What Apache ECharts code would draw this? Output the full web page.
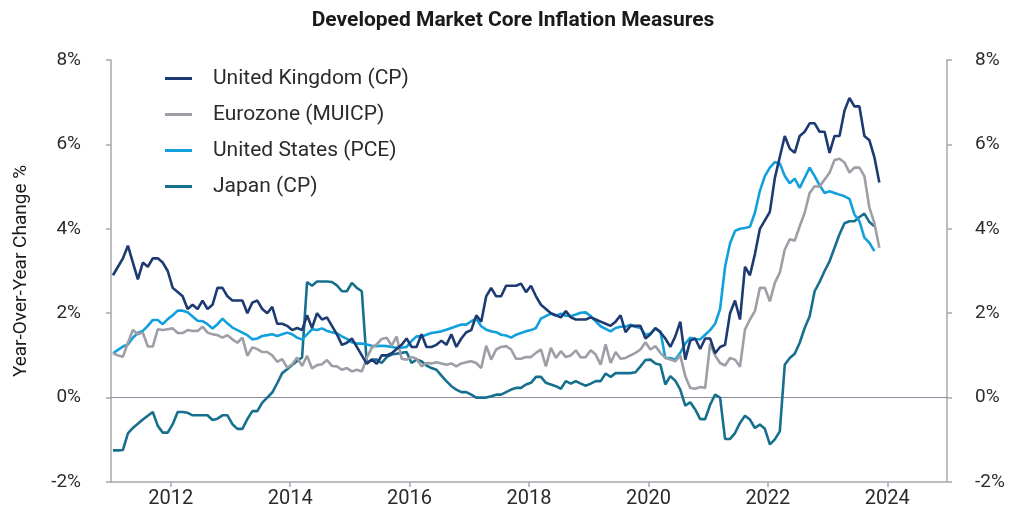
<!DOCTYPE html>
<html>
<head>
<meta charset="utf-8">
<script src="https://cdn.jsdelivr.net/npm/echarts@6/dist/echarts.min.js"></script>
<style>
  html, body { margin: 0; padding: 0; background: #fff; }
  #chart { width: 1026px; height: 509px; }
</style>
</head>
<body>
<div id="chart"></div>
<script>
// monthly year-over-year core inflation, Jan 2011 onward (one row per year)
var startYear = 2011;
var yearTicks = [2012, 2014, 2016, 2018, 2020, 2022, 2024];

var ukCore = [
  2.9, 3.1, 3.3, 3.6, 3.2, 2.8, 3.2, 3.1, 3.3, 3.3, 3.2, 3.0,
  2.6, 2.5, 2.4, 2.1, 2.2, 2.1, 2.3, 2.1, 2.2, 2.6, 2.6, 2.4,
  2.3, 2.3, 2.3, 2.0, 2.25, 2.3, 2.1, 2.0, 2.15, 1.75, 1.75, 1.7,
  1.6, 1.65, 1.6, 1.95, 1.65, 2.0, 1.85, 1.9, 1.7, 1.5, 1.25, 1.3,
  1.4, 1.2, 1.0, 0.8, 0.9, 0.8, 1.0, 1.0, 1.05, 1.15, 1.25, 1.4,
  1.2, 1.2, 1.5, 1.2, 1.2, 1.25, 1.35, 1.25, 1.5, 1.2, 1.4, 1.55,
  1.6, 1.95, 1.8, 2.4, 2.6, 2.4, 2.4, 2.65, 2.65, 2.65, 2.7, 2.5,
  2.65, 2.4, 2.2, 2.1, 2.0, 1.95, 1.9, 2.05, 1.9, 1.85, 1.85, 1.85,
  1.9, 1.85, 1.8, 1.75, 1.7, 1.8, 1.95, 1.55, 1.7, 1.7, 1.7, 1.4,
  1.5, 1.65, 1.55, 1.4, 1.2, 1.45, 1.8, 0.9, 1.35, 1.4, 1.15, 1.4,
  1.4, 1.05, 1.2, 1.25, 2.0, 2.3, 1.85, 3.1, 2.9, 3.4, 4.0, 4.2,
  4.4, 5.2, 5.7, 6.2, 5.9, 5.8, 6.2, 6.3, 6.5, 6.5, 6.3, 6.3,
  5.8, 6.2, 6.2, 6.8, 7.1, 6.9, 6.9, 6.2, 6.1, 5.7, 5.1
];

var euroCore = [
  1.05, 1.0, 0.97, 1.3, 1.6, 1.5, 1.54, 1.21, 1.21, 1.62, 1.6, 1.62,
  1.64, 1.53, 1.53, 1.6, 1.58, 1.58, 1.68, 1.54, 1.5, 1.48, 1.42, 1.48,
  1.38, 1.3, 1.42, 0.99, 1.19, 1.15, 1.08, 1.08, 1.0, 0.85, 0.91, 0.71,
  0.79, 0.95, 0.75, 0.99, 0.69, 0.77, 0.79, 0.89, 0.75, 0.74, 0.66, 0.7,
  0.62, 0.66, 0.62, 0.94, 1.18, 1.26, 1.39, 1.42, 1.23, 1.45, 0.92, 0.9,
  0.96, 0.92, 0.74, 0.82, 0.81, 0.84, 0.81, 0.78, 0.81, 0.74, 0.81, 0.84,
  0.86, 0.82, 0.7, 1.23, 0.9, 1.14, 1.2, 1.22, 1.14, 0.92, 0.92, 0.96,
  0.96, 1.06, 1.14, 0.74, 1.18, 0.94, 1.1, 0.96, 1.0, 1.12, 0.95, 0.96,
  1.12, 1.02, 0.78, 1.26, 0.82, 1.08, 0.92, 0.94, 1.0, 1.06, 1.14, 1.31,
  1.14, 1.22, 1.06, 0.94, 0.9, 0.86, 1.0, 0.51, 0.23, 0.21, 0.25, 0.23,
  1.28, 1.0, 0.82, 0.76, 0.94, 0.9, 0.73, 1.61, 1.85, 2.05, 2.6, 2.6,
  2.28, 2.72, 2.96, 3.51, 3.75, 3.72, 4.06, 4.38, 4.85, 5.01, 5.0, 5.17,
  5.33, 5.63, 5.66, 5.57, 5.33, 5.45, 5.45, 5.25, 4.5, 4.14, 3.55
];

var usCore = [
  1.05, 1.13, 1.21, 1.26, 1.42, 1.53, 1.58, 1.7, 1.84, 1.84, 1.74, 1.86,
  1.95, 2.06, 2.06, 2.02, 1.92, 1.82, 1.81, 1.74, 1.64, 1.74, 1.87, 1.76,
  1.66, 1.6, 1.54, 1.48, 1.38, 1.4, 1.46, 1.48, 1.5, 1.46, 1.5, 1.54,
  1.5, 1.42, 1.38, 1.5, 1.62, 1.6, 1.64, 1.58, 1.55, 1.52, 1.45, 1.39,
  1.31, 1.28, 1.28, 1.26, 1.23, 1.22, 1.23, 1.22, 1.2, 1.18, 1.18, 1.2,
  1.34, 1.45, 1.45, 1.49, 1.53, 1.55, 1.57, 1.61, 1.65, 1.69, 1.73, 1.73,
  1.81, 1.87, 1.69, 1.61, 1.57, 1.55, 1.49, 1.47, 1.42, 1.49, 1.53, 1.57,
  1.6, 1.65, 1.87, 1.93, 1.99, 1.94, 1.99, 1.94, 1.93, 1.97, 2.01, 2.02,
  1.93, 1.81, 1.69, 1.63, 1.57, 1.65, 1.68, 1.68, 1.73, 1.68, 1.65, 1.49,
  1.52, 1.63, 1.57, 0.94, 0.94, 0.9, 1.06, 1.28, 1.42, 1.39, 1.38, 1.49,
  1.6, 1.75, 2.1, 3.1, 3.65, 3.95, 4.0, 4.02, 4.05, 4.38, 4.9, 5.25,
  5.45, 5.58, 5.55, 5.25, 5.08, 5.19, 4.97, 5.21, 5.45, 5.25, 5.03, 4.85,
  4.89, 4.85, 4.81, 4.77, 4.71, 4.34, 4.18, 3.79, 3.67, 3.47
];

var japanCore = [
  -1.25, -1.25, -1.24, -0.85, -0.72, -0.62, -0.52, -0.43, -0.34, -0.67, -0.83, -0.83,
  -0.63, -0.34, -0.34, -0.36, -0.42, -0.42, -0.42, -0.42, -0.53, -0.5, -0.42, -0.42,
  -0.63, -0.74, -0.74, -0.51, -0.32, -0.32, -0.12, 0.0, 0.12, 0.34, 0.58, 0.67,
  0.77, 0.87, 0.95, 2.74, 2.65, 2.75, 2.75, 2.75, 2.74, 2.66, 2.52, 2.52,
  2.72, 2.6, 2.52, 0.82, 0.9, 0.9, 0.82, 0.96, 1.02, 1.04, 1.06, 1.08,
  0.82, 0.9, 0.86, 0.76, 0.7, 0.66, 0.52, 0.39, 0.27, 0.19, 0.13, 0.13,
  0.07, 0.0, 0.0, 0.0, 0.03, 0.07, 0.07, 0.13, 0.19, 0.23, 0.23, 0.31,
  0.35, 0.49, 0.49, 0.35, 0.31, 0.27, 0.21, 0.39, 0.33, 0.39, 0.33, 0.28,
  0.33, 0.39, 0.39, 0.57, 0.49, 0.58, 0.58, 0.58, 0.58, 0.6, 0.74, 0.89,
  0.9, 0.81, 0.78, 0.31, 0.51, 0.4, 0.19, -0.19, -0.11, -0.28, -0.51, -0.51,
  -0.17, 0.07, 0.0, -0.98, -0.98, -0.84, -0.6, -0.43, -0.52, -0.72, -0.64, -0.74,
  -1.11, -0.99, -0.8, 0.78, 0.94, 1.04, 1.3, 1.65, 1.93, 2.52, 2.74, 3.0,
  3.23, 3.55, 3.87, 4.13, 4.18, 4.18, 4.28, 4.36, 4.16, 4.06
];

var seriesNames = ['United Kingdom (CP)', 'Eurozone (MUICP)', 'United States (PCE)', 'Japan (CP)'];
var seriesColors = ['#1d3a72', '#9e9fa6', '#12a0dc', '#176f8e'];

// month index -> decimal year (points sit mid-month)
function toPoints(values) {
  return values.map(function (v, i) {
    return [startYear + (i + 0.4) / 12, v];
  });
}

var font = 'Roboto';
var axisGray = '#a7a7b0';

function yAxis(pos, margin) {
  return {
    type: 'value',
    position: pos,
    min: -2,
    max: 8,
    interval: 2,
    axisLine: { show: true, lineStyle: { color: axisGray, width: 1.5 } },
    axisTick: { show: true, length: 5, lineStyle: { color: axisGray, width: 1.5 } },
    splitLine: { show: false },
    axisLabel: {
      margin: margin,
      formatter: '{value}%',
      fontFamily: font,
      fontSize: 19,
      color: '#2b2b2b'
    }
  };
}

var chart = echarts.init(document.getElementById('chart'));

var left = yAxis('left', 30);
left.name = 'Year-Over-Year Change %';
left.nameLocation = 'middle';
left.nameRotate = 90;
left.nameGap = 80;
left.nameTextStyle = { fontFamily: font, fontSize: 19, color: '#1a1a1a' };

var series = [ukCore, euroCore, usCore, japanCore].map(function (vals, k) {
  return {
    name: seriesNames[k],
    type: 'line',
    data: toPoints(vals),
    showSymbol: false,
    symbol: 'none',
    lineStyle: { width: 2.6, color: seriesColors[k] },
    itemStyle: { color: seriesColors[k] },
    z: 10 - k
  };
});
// zero line
series[0].markLine = {
  silent: true,
  symbol: 'none',
  label: { show: false },
  lineStyle: { color: '#8c8c9c', width: 1, type: 'solid' },
  data: [{ yAxis: 0 }]
};
// draw the lines in the reference's stacking order
series = [series[1], series[3], series[2], series[0]];

chart.setOption({
  animation: false,
  backgroundColor: '#ffffff',
  title: {
    text: 'Developed Market Core Inflation Measures',
    left: 'center',
    top: 5,
    textStyle: { fontFamily: font, fontWeight: 'bold', fontSize: 21, color: '#1a1a1a' }
  },
  legend: {
    orient: 'vertical',
    left: 160,
    top: 63,
    itemWidth: 27,
    itemHeight: 20,
    itemGap: 15,
    icon: 'path://M0,8.5 L27,8.5 L27,11.5 L0,11.5 Z',
    data: seriesNames,
    textStyle: { fontFamily: font, fontSize: 21, color: '#2b2b2b', padding: [0, 0, 0, 16] }
  },
  grid: { left: 111, right: 79, top: 60, bottom: 27, containLabel: false },
  xAxis: {
    type: 'value',
    min: 2011,
    max: 2025,
    axisLine: { show: true, onZero: false, lineStyle: { color: axisGray, width: 1.5 } },
    axisTick: { show: true, length: 5, customValues: yearTicks, lineStyle: { color: axisGray, width: 1.5 } },
    axisLabel: {
      customValues: yearTicks,
      formatter: function (v) { return String(v); },
      margin: 7,
      fontFamily: font,
      fontSize: 20,
      color: '#2b2b2b'
    },
    splitLine: { show: false }
  },
  yAxis: [left, yAxis('right', 28)],
  series: series
});
</script>
</body>
</html>
